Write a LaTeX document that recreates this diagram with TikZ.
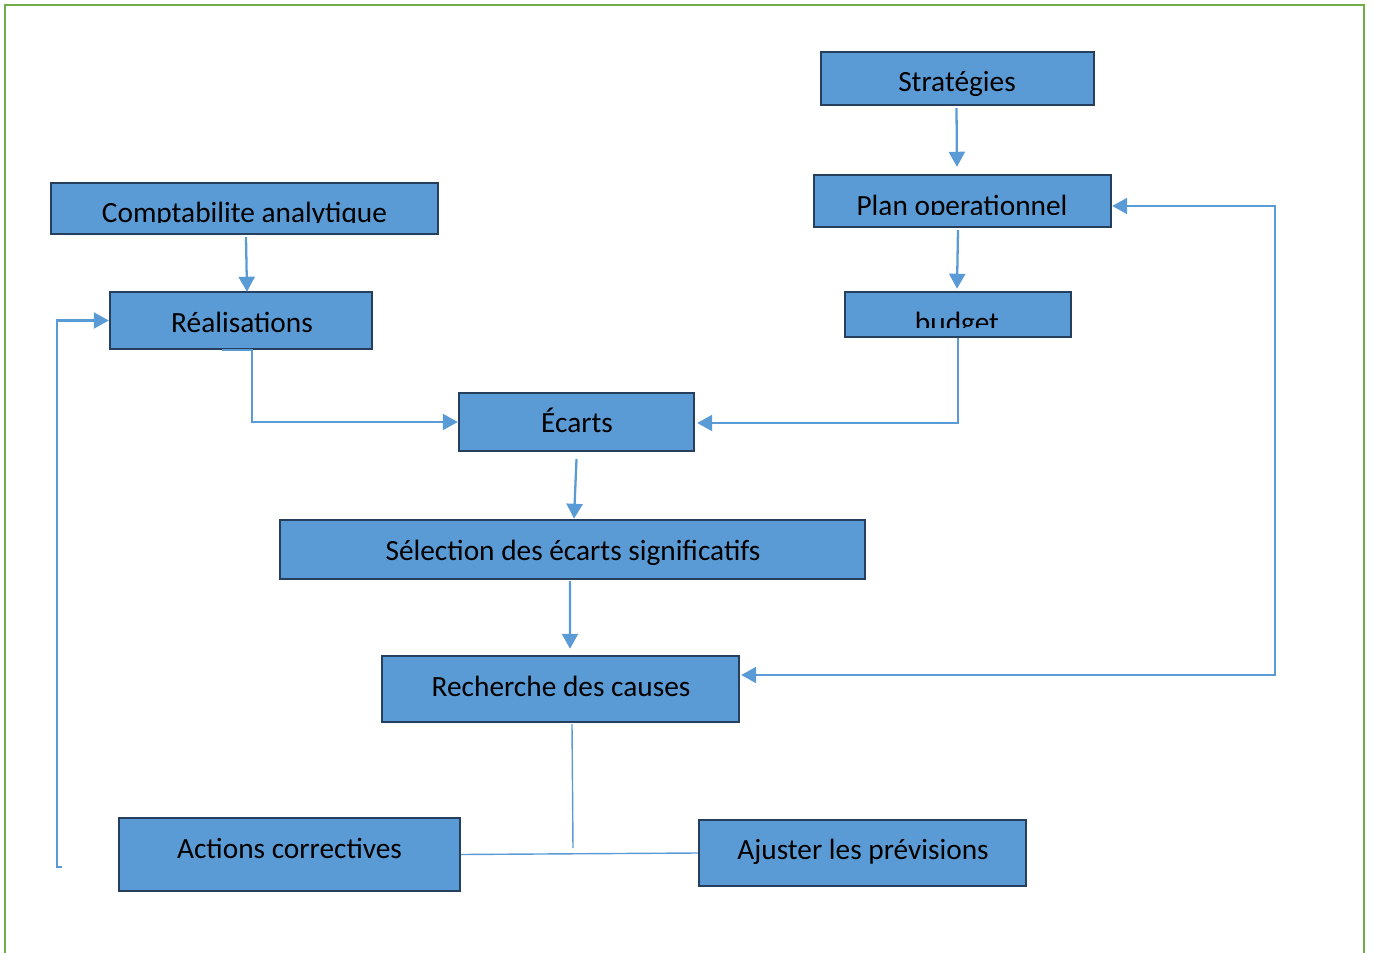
\documentclass[tikz,border=0pt]{standalone}
\usepackage{fontspec}
\setmainfont{Carlito}
\usetikzlibrary{arrows.meta,calc}
\definecolor{boxfill}{HTML}{5B9BD5}
\definecolor{boxedge}{HTML}{253F5C}
\definecolor{linkblue}{HTML}{5B9BD5}
\definecolor{framegreen}{HTML}{70AD47}
\begin{document}
\begin{tikzpicture}[x=0.02cm,y=-0.02cm,
  box/.style={draw=boxedge,fill=boxfill,line width=1.4pt,inner sep=0pt},
  txt/.style={anchor=base,inner sep=0pt,font=\fontsize{16.7pt}{20pt}\selectfont},
  link/.style={draw=linkblue,line width=1.3pt,-{Triangle[length=0.3cm,width=0.32cm]}},
  twolink/.style={draw=linkblue,line width=1.3pt,{Triangle[length=0.3cm,width=0.32cm]}-{Triangle[length=0.3cm,width=0.32cm]}},
  thinlink/.style={draw=linkblue,line width=0.8pt}]
\useasboundingbox (0,0) rectangle (1374,953);

% page frame
\draw[framegreen,line width=1.6pt] (5,965) -- (5,5) -- (1364,5) -- (1364,965);

% boxes
\node[box,minimum width=5.46cm,minimum height=1.06cm] (strat)   at (957.5,78.5) {};
\node[box,minimum width=5.94cm,minimum height=1.04cm] (plan)    at (962.5,201)  {};
\node[box,minimum width=4.52cm,minimum height=0.90cm] (budget)  at (958,314.5)  {};
\node[box,minimum width=7.74cm,minimum height=1.02cm] (compta)  at (244.5,208.5) {};
\node[box,minimum width=5.24cm,minimum height=1.14cm] (real)    at (241,320.5)  {};
\node[box,minimum width=4.70cm,minimum height=1.16cm] (ecarts)  at (576.5,422)  {};
\node[box,minimum width=11.70cm,minimum height=1.18cm] (sel)    at (572.5,549.5) {};
\node[box,minimum width=7.14cm,minimum height=1.32cm] (rech)    at (560.5,689)  {};
\node[box,minimum width=6.82cm,minimum height=1.46cm] (actions) at (289.5,854.5) {};
\node[box,minimum width=6.54cm,minimum height=1.32cm] (ajuster) at (862.5,853)  {};

% labels
\node[txt] (stratT) at (957,92) {Stratégies};
\begin{scope}
  \clip (814,175) rectangle (1111,215);
  \node[txt] (planT) at (962,215) {Plan operationnel};
\end{scope}
\begin{scope}
  \clip (845,292) rectangle (1071,327);
  \node[txt] (budgetT) at (957,333) {budget};
\end{scope}
\begin{scope}
  \clip (51,183) rectangle (438,223);
  \node[txt] (comptaT) at (244.5,223) {Comptabilite analytique};
\end{scope}
\node[txt] (realT)    at (242,332.5) {Réalisations};
\node[txt] (ecartsT)  at (577,432.5) {Écarts};
\node[txt] (selT)     at (573,560)   {Sélection des écarts significatifs};
\node[txt] (rechT)    at (561,696)   {Recherche des causes};
\node[txt] (actionsT) at (289.5,858) {Actions correctives};
\node[txt] (ajusterT) at (863,859)   {Ajuster les prévisions};

% connectors
\coordinate (loopR) at (1275,206);
\coordinate (loopL) at (57,867);
\coordinate (junc)  at (573,848);

\draw[link] ($(strat.south)+(-1,2)$) -- ($(plan.north)+(-5.5,-7)$);
\draw[link] ($(plan.south)+(-4.5,2)$) -- ($(budget.north)+(-1,-2)$);
\draw[link] ($(compta.south)+(1.5,2)$) -- ($(real.north)+(6,1)$);
\draw[link] ($(real.south)+(-19,0)$) -- ++(30,0) |- (ecarts.west);
\draw[link] (budget.south) |- ($(ecarts.east)+(2,1)$);
\draw[link] ($(ecarts.south)+(0,7)$) -- ($(sel.north)+(1.5,0)$);
\draw[link] ($(sel.south)+(-2.5,1)$) -- ($(rech.north)+(9.5,-6)$);
\draw[twolink] ($(plan.east)+(0,5)$) -- (loopR) |- ($(rech.east)+(1,-14)$);
\draw[link] ($(loopL)+(5,0)$) -- (loopL) |- (real.west);
\draw[thinlink] ($(rech.south)+(11.5,1)$) -- (junc);
\draw[thinlink] (actions.east) -- (ajuster.west);
\end{tikzpicture}
\end{document}
